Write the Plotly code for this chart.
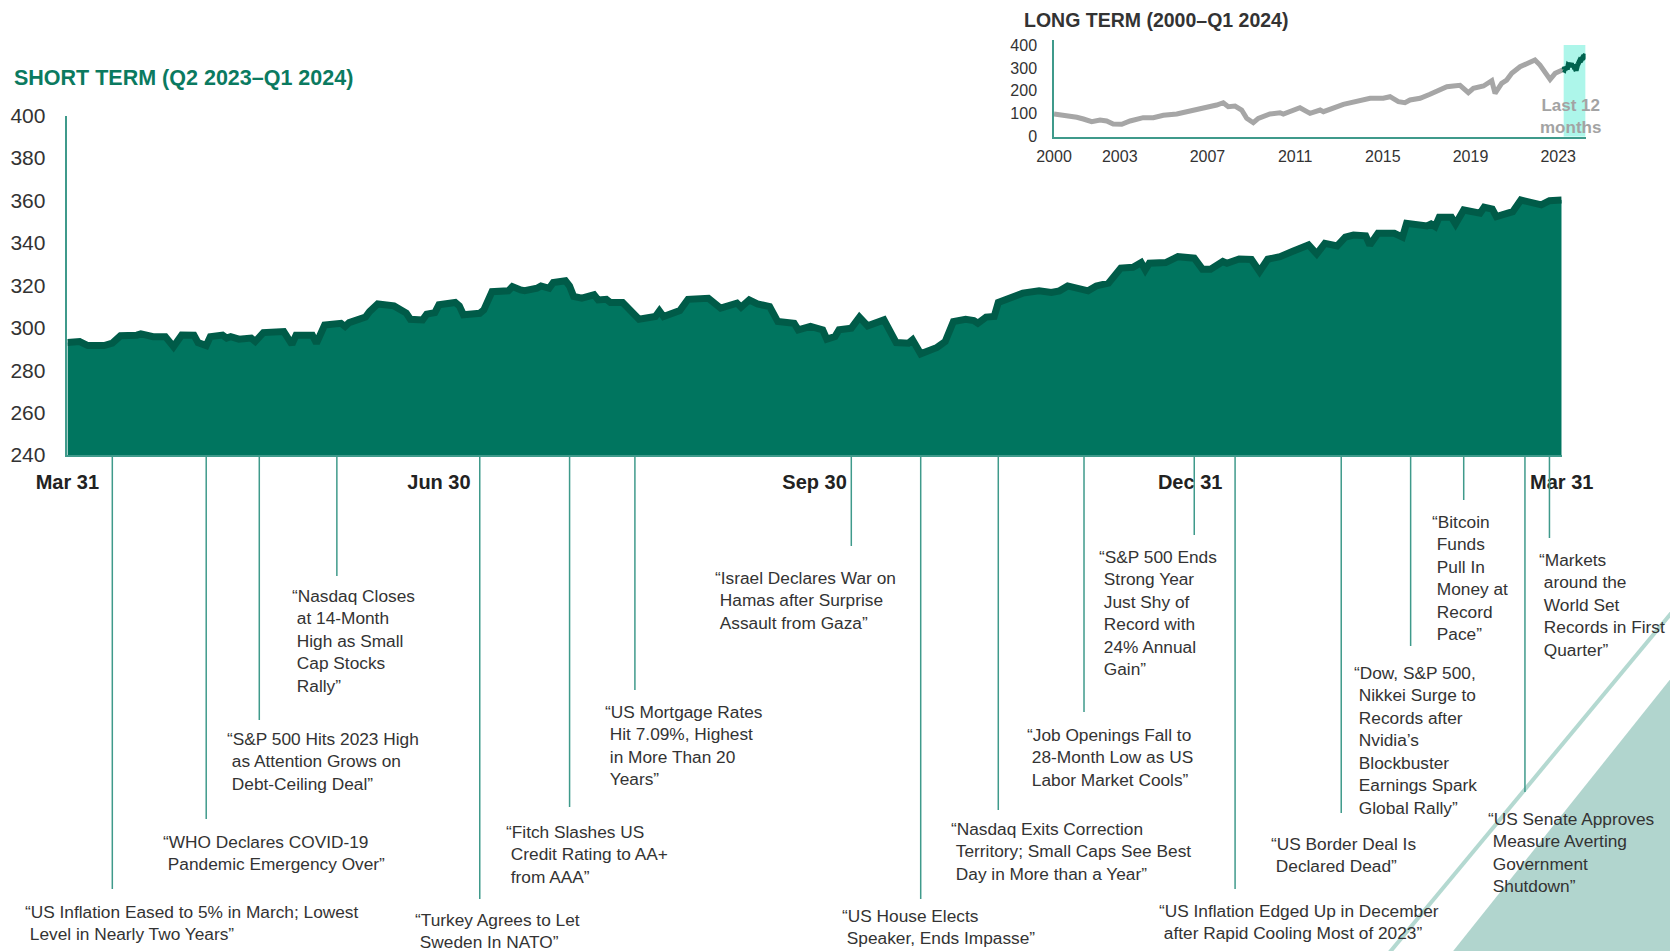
import pandas as pd
import plotly.graph_objects as go

W, H = 1678, 951          # browser window
OFF = 8                   # default body margin of the html page
FW, FH = W - OFF, H - OFF  # figure size so that it ends exactly at the window edge

# ---------------- DATA ----------------
# Short term index level; offsets are calendar days after 2023-03-31
short_start = "2023-03-31"
short_day_offsets = [
    0, 3, 5, 9, 11, 13, 17, 18, 21, 24, 26, 28, 31, 32, 34, 35, 38, 39, 40, 42,
    45, 46, 48, 53, 55, 56, 60, 61, 63, 66, 67, 68, 69, 73, 74, 76, 80, 83, 84, 87,
    88, 90, 91, 95, 96, 97, 101, 102, 104, 108, 109, 111, 112, 115, 116, 118, 119, 122, 123, 124,
    126, 129, 130, 132, 133, 136, 140, 144, 145, 146, 150, 152, 153, 157, 160, 164, 165, 167, 169, 172,
    174, 178, 179, 182, 185, 186, 188, 189, 192, 194, 196, 200, 203, 206, 207, 209, 213, 215, 217, 220,
    222, 223, 225, 227, 228, 230, 234, 238, 241, 243, 245, 250, 252, 255, 258, 261, 263, 264, 265, 269,
    272, 276, 278, 280, 283, 284, 285, 287, 290, 292, 294, 297, 300, 304, 306, 308, 311, 313, 315, 318,
    319, 321, 325, 327, 328, 332, 333, 334, 335, 336, 339, 340, 342, 346, 347, 349, 350, 354, 356, 361,
    363, 366]
short_values = [
    293.0, 293.5, 291.6, 291.6, 292.7, 296.2, 296.5, 297.1, 295.8, 295.8, 291.1, 296.6, 296.5, 293.0, 291.6, 295.8, 296.5, 295.1, 295.8, 294.6,
    295.1, 293.5, 297.7, 298.2, 292.2, 296.5, 296.5, 292.7, 301.3, 301.3, 302.1, 300.6, 302.4, 305.0, 307.6, 311.2, 310.3, 306.9, 304.0, 303.7,
    306.4, 307.1, 310.8, 311.9, 310.3, 306.1, 306.8, 308.4, 317.0, 317.4, 319.4, 317.8, 317.5, 318.6, 319.7, 318.6, 321.3, 322.1, 319.7, 314.7,
    313.9, 315.5, 313.1, 313.4, 311.9, 311.9, 304.0, 305.3, 307.9, 305.3, 308.1, 313.4, 313.4, 313.9, 309.2, 311.6, 309.7, 313.1, 311.2, 310.0,
    302.9, 302.1, 299.0, 300.6, 299.0, 294.6, 295.8, 299.0, 299.8, 305.0, 300.9, 303.7, 293.0, 292.7, 294.3, 287.7, 290.7, 293.5, 302.9, 304.0,
    303.4, 302.1, 305.0, 305.3, 311.9, 313.1, 316.3, 317.4, 316.6, 317.4, 319.7, 317.4, 319.7, 321.0, 328.1, 328.5, 330.7, 327.3, 330.4, 330.7,
    333.5, 332.8, 327.6, 327.6, 331.2, 330.4, 331.2, 332.4, 332.2, 326.5, 332.3, 333.5, 335.9, 339.0, 334.8, 339.8, 338.6, 342.7, 343.7, 343.3,
    339.0, 344.5, 344.5, 342.7, 349.2, 348.5, 348.0, 348.9, 347.7, 352.1, 352.1, 348.9, 355.5, 354.0, 356.8, 355.9, 352.4, 354.7, 360.2, 357.9,
    359.9, 360.2]

# Long term index (2000 - Q1 2023)
long_years = [2000.0, 2000.5, 2001.04, 2001.34, 2001.72, 2002.1, 2002.4, 2002.7, 2003.09, 2003.47,
              2004.07, 2004.53, 2004.99, 2005.6, 2006.2, 2006.58, 2006.97, 2007.42, 2007.72, 2007.95,
              2008.26, 2008.56, 2008.79, 2009.09, 2009.32, 2009.85, 2010.31, 2010.46, 2011.22, 2011.68,
              2012.14, 2012.29, 2013.2, 2013.81, 2014.42, 2015.02, 2015.33, 2015.71, 2016.01, 2016.24,
              2016.7, 2017.15, 2017.92, 2018.22, 2018.52, 2018.9, 2019.13, 2019.59, 2019.97, 2020.12,
              2020.42, 2020.65, 2020.88, 2021.26, 2021.72, 2021.94, 2022.17, 2022.4, 2022.63, 2022.86,
              2023.24]
long_values = [99.0, 94.6, 84.6, 77.2, 65.4, 72.8, 68.5, 55.4, 54.0, 68.5,
               82.9, 82.9, 93.3, 99.0, 112.0, 116.4, 128.2, 138.2, 148.3, 130.8,
               133.9, 116.4, 80.2, 61.0, 80.2, 99.0, 104.7, 99.0, 126.5, 102.0,
               116.4, 109.0, 141.3, 155.7, 167.5, 167.5, 174.4, 152.6, 148.3, 160.0,
               167.5, 185.0, 218.0, 221.0, 224.0, 192.0, 211.0, 221.0, 244.0, 189.0,
               233.0, 247.0, 276.5, 305.0, 327.0, 334.5, 312.7, 279.0, 250.0, 276.5,
               293.0]

short_tick_dates = ["2023-03-31", "2023-06-30", "2023-09-30", "2023-12-31", "2024-03-31"]
short_tick_labels = ["Mar 31", "Jun 30", "Sep 30", "Dec 31", "Mar 31"]
short_y_ticks = [240, 260, 280, 300, 320, 340, 360, 380, 400]
long_x_ticks = [2000, 2003, 2007, 2011, 2015, 2019, 2023]
long_y_ticks = [0, 100, 200, 300, 400]

event_dates = ["2023-04-11", "2023-05-04", "2023-05-17", "2023-06-05", "2023-07-10", "2023-08-01",
               "2023-08-17", "2023-10-09", "2023-10-26", "2023-11-14", "2023-12-05", "2024-01-01",
               "2024-01-11", "2024-02-06", "2024-02-23", "2024-03-07", "2024-03-22", "2024-03-28"]
event_headlines = [
    ["“US Inflation Eased to 5% in March; Lowest", "Level in Nearly Two Years”"],
    ["“WHO Declares COVID-19", "Pandemic Emergency Over”"],
    ["“S&P 500 Hits 2023 High", "as Attention Grows on", "Debt-Ceiling Deal”"],
    ["“Nasdaq Closes", "at 14-Month", "High as Small", "Cap Stocks", "Rally”"],
    ["“Turkey Agrees to Let", "Sweden In NATO”"],
    ["“Fitch Slashes US", "Credit Rating to AA+", "from AAA”"],
    ["“US Mortgage Rates", "Hit 7.09%, Highest", "in More Than 20", "Years”"],
    ["“Israel Declares War on", "Hamas after Surprise", "Assault from Gaza”"],
    ["“US House Elects", "Speaker, Ends Impasse”"],
    ["“Nasdaq Exits Correction", "Territory; Small Caps See Best", "Day in More than a Year”"],
    ["“Job Openings Fall to", "28-Month Low as US", "Labor Market Cools”"],
    ["“S&P 500 Ends", "Strong Year", "Just Shy of", "Record with", "24% Annual", "Gain”"],
    ["“US Inflation Edged Up in December", "after Rapid Cooling Most of 2023”"],
    ["“US Border Deal Is", "Declared Dead”"],
    ["“Dow, S&P 500,", "Nikkei Surge to", "Records after", "Nvidia’s", "Blockbuster", "Earnings Spark", "Global Rally”"],
    ["“Bitcoin", "Funds", "Pull In", "Money at", "Record", "Pace”"],
    ["“US Senate Approves", "Measure Averting", "Government", "Shutdown”"],
    ["“Markets", "around the", "World Set", "Records in First", "Quarter”"],
]

# ---------------- LAYOUT CONSTANTS (window pixels) ----------------
# leader line bottom end, text left edge, first text line centre
event_line_end_px = [889, 819, 720, 576, 899, 807, 690, 546, 899, 810, 712, 535, 889, 813, 646, 500, 792, 538]
event_text_px = [(24.6, 913), (162.7, 843.3), (226.9, 740.6), (292.2, 597.2), (415.2, 921),
                 (506.2, 833.7), (604.7, 712.8), (714.9, 579), (842.2, 917), (951.4, 830.5),
                 (1027.4, 736.3), (1099.1, 558.6), (1159, 911.8), (1271.4, 845.5), (1353.8, 674.2),
                 (1432, 523.3), (1487.6, 819.8), (1539, 560.8)]

FONT = "Liberation Sans, Arial, sans-serif"
FILL = "#00755f"
LINE_DARK = "#005b48"
TEAL = "#3f9a8b"
TEXT = "#333333"
TITLE_GREEN = "#0b7a60"


def px(x):
    return (x - OFF) / FW


def py(y):
    return 1 - (y - OFF) / FH


short_dates = pd.Timestamp(short_start) + pd.to_timedelta(short_day_offsets, unit="D")
short_frac_year = [d.year + (d.dayofyear - 1) / (366 if d.is_leap_year else 365) for d in short_dates]

fig = go.Figure()

# main area chart
fig.add_trace(go.Scatter(
    x=short_dates, y=short_values, mode="lines", fill="tozeroy", fillcolor=FILL,
    line=dict(color=LINE_DARK, width=7), hoverinfo="skip", xaxis="x", yaxis="y"))

# inset: long term grey + last 12 months green
fig.add_trace(go.Scatter(
    x=long_years, y=long_values, mode="lines", line=dict(color="#a6a6a6", width=5),
    hoverinfo="skip", xaxis="x2", yaxis="y2"))
fig.add_trace(go.Scatter(
    x=short_frac_year, y=short_values, mode="lines", line=dict(color="#00634f", width=5),
    hoverinfo="skip", xaxis="x2", yaxis="y2"))

shapes = []
# decorative background shapes (bottom right)
shapes.append(dict(type="path", xref="paper", yref="paper", layer="below",
                   path=f"M {px(1700)},{py(642)} L {px(1700)},{py(975)} L {px(1434)},{py(975)} Z",
                   fillcolor="#b1d5ce", line=dict(width=0)))
shapes.append(dict(type="line", xref="paper", yref="paper", layer="below",
                   x0=px(1700), y0=py(578.5), x1=px(1375), y1=py(970),
                   line=dict(color="#b4d9d1", width=4)))
# highlight band in inset
shapes.append(dict(type="rect", xref="x2", yref="y2", layer="below",
                   x0=2023.25, x1=2024.25, y0=0, y1=400,
                   fillcolor="#adf6ea", line=dict(width=0)))
# leader lines
for d, yend in zip(event_dates, event_line_end_px):
    shapes.append(dict(type="line", xref="x", yref="paper", x0=d, x1=d,
                       y0=py(456), y1=py(yend), line=dict(color=TEAL, width=1.5)))

annotations = []
LH = 22.5
for lines, (lx, ly) in zip(event_headlines, event_text_px):
    txt = lines[0] + "".join("<br>\u00a0" + ln for ln in lines[1:])
    annotations.append(dict(xref="paper", yref="paper", x=px(lx - 2), y=py(ly - LH / 2 - 2),
                            xanchor="left", yanchor="top", align="left", showarrow=False,
                            text=txt, font=dict(family=FONT, size=17.3, color=TEXT)))

annotations.append(dict(xref="paper", yref="paper", x=px(12), y=py(78), xanchor="left", yanchor="middle",
                        showarrow=False, text="<b>SHORT TERM (Q2 2023–Q1 2024)</b>",
                        font=dict(family=FONT, size=21.5, color=TITLE_GREEN)))
annotations.append(dict(xref="paper", yref="paper", x=px(1022), y=py(19.5), xanchor="left", yanchor="middle",
                        showarrow=False, text="<b>LONG TERM (2000–Q1 2024)</b>",
                        font=dict(family=FONT, size=19.5, color="#333333")))
annotations.append(dict(xref="paper", yref="paper", x=px(1570), y=py(116), xanchor="center", yanchor="middle",
                        showarrow=False, text="<b>Last 12<br>months</b>",
                        font=dict(family=FONT, size=17, color="#a3a3a3")))

fig.update_layout(
    width=FW, height=FH, margin=dict(l=0, r=0, t=0, b=0, autoexpand=False),
    paper_bgcolor="white", plot_bgcolor="rgba(0,0,0,0)", showlegend=False,
    hovermode=False,
    xaxis=dict(domain=[px(67.4), px(1561.7)], type="date", range=[short_tick_dates[0], short_tick_dates[-1]],
               tickvals=short_tick_dates, ticktext=short_tick_labels, showgrid=False, zeroline=False,
               showline=True, linecolor=TEAL, linewidth=1.5, ticks="", ticklabelstandoff=8, automargin=False,
               tickfont=dict(family=FONT, size=20, color="#222222", weight="bold"), anchor="y"),
    yaxis=dict(domain=[py(455), py(115.6)], range=[240, 400], tickvals=short_y_ticks, automargin=False,
               showgrid=False, zeroline=False, showline=True, linecolor=TEAL, linewidth=1.5,
               ticks="", ticklabelstandoff=16, tickfont=dict(family=FONT, size=21, color=TEXT), anchor="x"),
    xaxis2=dict(domain=[px(1054), px(1585.6)], range=[2000, 2024.25], tickvals=long_x_ticks, automargin=False,
                showgrid=False, zeroline=False, showline=True, linecolor=TEAL, linewidth=1.5,
                ticks="", ticklabelstandoff=4, tickfont=dict(family=FONT, size=16, color=TEXT), anchor="y2"),
    yaxis2=dict(domain=[py(136.7), py(40.4)], range=[0, 420], tickvals=long_y_ticks, automargin=False,
                showgrid=False, zeroline=False, showline=True, linecolor=TEAL, linewidth=1.5,
                ticks="", ticklabelstandoff=12, tickfont=dict(family=FONT, size=16, color=TEXT), anchor="x2"),
    shapes=shapes, annotations=annotations,
)

fig.write_html("out.html")
